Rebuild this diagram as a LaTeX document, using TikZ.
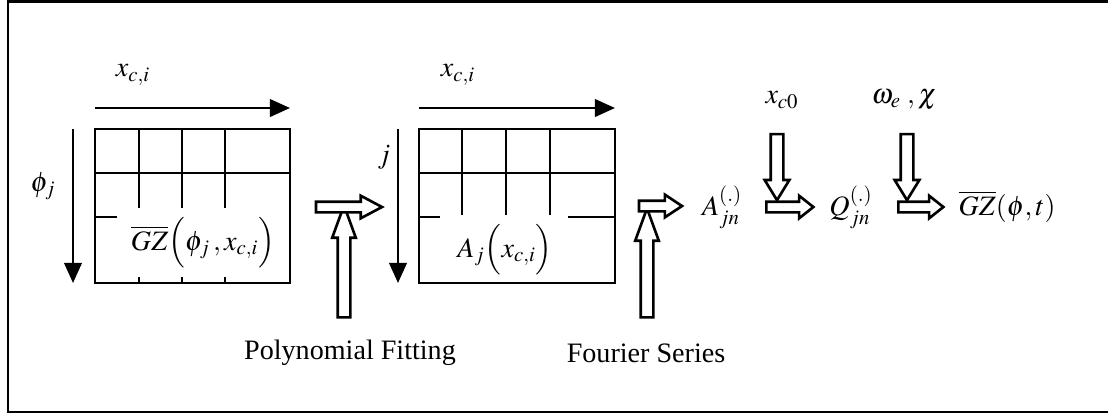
\documentclass[tikz,border=0pt]{standalone}
\usepackage{mathptmx}
\usepackage{fontspec}
\setmainfont{Liberation Serif}
\usetikzlibrary{arrows.meta,shapes.arrows}

\begin{document}
\begin{tikzpicture}[x=0.02cm,y=-0.02cm,
    every node/.style={font=\fontsize{16}{19}\selectfont,inner sep=0pt},
    grid/.style={line width=1.4pt},
    cell/.style={line width=1.1pt},
    axis/.style={line width=1.4pt,-{Triangle[length=11.5pt,width=10pt]}},
    hollow/.style={single arrow,draw,line width=1.5pt,fill=white,minimum height=#1,
                   inner sep=0.08cm,single arrow head extend=0.12cm},
    hollowup/.style={hollow=#1,shape border rotate=90,inner sep=0.1cm,
                     single arrow head extend=0.11cm,single arrow tip angle=40},
    hollowdown/.style={hollow=#1,shape border rotate=270,inner sep=0.1cm,
                       single arrow head extend=0.12cm,single arrow tip angle=63}]
    \useasboundingbox (0,0) rectangle (1108,414);
    % frame, right side is cut off
    \draw[line width=1.5pt] (1112,1.5) -- (8,1.5) -- (8,412) -- (1112,412);

    % first table
    \draw[grid] (95,129) rectangle (290,283);
    \draw[cell] (95,173) -- (290,173);
    \foreach \x in {139,182,225} {
        \draw[cell] (\x,129) -- (\x,208);
        \draw[cell] (\x,283) -- (\x,277);
    }
    \draw[cell] (95,217) -- (117,217);
    \coordinate (h1a) at (95,108);
    \coordinate (h1b) at (290,108);
    \coordinate (v1a) at (73,129);
    \coordinate (v1b) at (73,283);
    \draw[axis] (h1a) -- (h1b);
    \draw[axis] (v1a) -- (v1b);
    \node (xci1) at (133,75) {$x_{c,i}$};
    \node (phij) at (43,186) {$\phi_j$};
    \node (gz1) at (203,243) {$\overline{GZ}\Bigl(\phi_j\,,x_{c,i}\Bigr)$};

    % second table
    \draw[grid] (419,129) rectangle (615,283);
    \draw[cell] (419,173) -- (615,173);
    \foreach \x in {462,506,550}
        \draw[cell] (\x,129) -- (\x,215);
    \draw[cell] (419,217) -- (440,217) (568,217) -- (615,217);
    \coordinate (h2a) at (419,108);
    \coordinate (h2b) at (615,108);
    \coordinate (v2a) at (398,129);
    \coordinate (v2b) at (398,283);
    \draw[axis] (h2a) -- (h2b);
    \draw[axis] (v2a) -- (v2b);
    \node (xci2) at (458,75) {$x_{c,i}$};
    \node (jidx) at (384,157) {$j$};
    \node (aj) at (505,250) {$A_j\Bigl(x_{c,i}\Bigr)$};

    % hollow arrows
    \node[hollowup=2.24cm] (fitup) at (344,270) {};
    \node[hollow=1.32cm,single arrow tip angle=56] (fitright) at (344,207) {};
    \node[hollowup=2.18cm] (fourup) at (647,271.5) {};
    \node[hollow=0.86cm,single arrow tip angle=67] (fourright) at (656.5,206) {};
    \node[hollowdown=1.32cm] (xcdown) at (777,162) {};
    \node[hollow=0.94cm,single arrow tip angle=77] (aqright) at (786.5,207) {};
    \node[hollowdown=1.32cm] (omdown) at (907,162) {};
    \node[hollow=0.9cm,single arrow tip angle=77] (qgright) at (917.5,207) {};

    % results
    \node (ajn) at (722,207) {$A_{jn}^{(.)}$};
    \node (qjn) at (851,207) {$Q_{jn}^{(.)}$};
    \node (gzt) at (1007,207) {$\overline{GZ}(\phi,t)$};
    \node (xc0) at (782,100) {$x_{c0}$};
    \node (omchi) at (904,100) {$\omega_e\;,\chi$};

    \node (poly) at (350,353) {Polynomial Fitting};
    \node (four) at (646,353) {Fourier Series};
\end{tikzpicture}
\end{document}
